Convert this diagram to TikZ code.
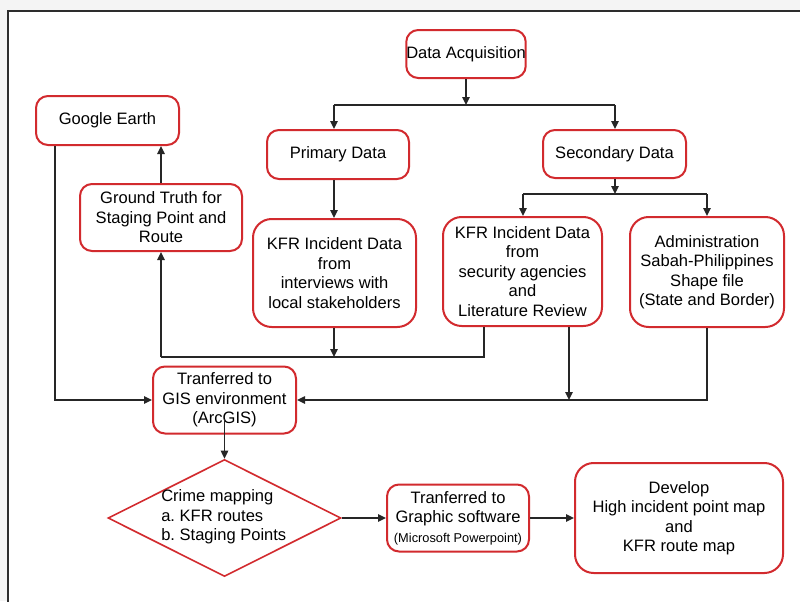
\documentclass[tikz,border=0pt]{standalone}
\usepackage{fontspec}
\setmainfont{Liberation Sans}
\usetikzlibrary{arrows.meta,shapes.geometric}
\definecolor{boxred}{RGB}{210,42,46}
\definecolor{pagegray}{RGB}{244,244,244}
\definecolor{framegray}{RGB}{45,45,45}
\frenchspacing

\begin{document}
\begin{tikzpicture}[x=0.75pt,y=-0.75pt,
  box/.style={draw=boxred,line width=1.5pt,rounded corners=9pt,fill=white,
    align=center,inner sep=0pt,font=\fontsize{12.4}{14.6}\selectfont},
  bigbox/.style={box,rounded corners=14pt},
  diam/.style={draw=boxred,line width=1.2pt,shape=diamond,inner sep=0pt,fill=white},
  txt/.style={align=left,inner sep=0pt,font=\fontsize{12.4}{14.6}\selectfont},
  conn/.style={line width=1.1pt,draw=black!85},
  arr/.style={conn,-{Triangle[length=6pt,width=5.5pt]}}]

\useasboundingbox (0,0) rectangle (800,601);
\fill[pagegray] (0,0) rectangle (800,601);
\begin{scope}
  \clip (0,0) rectangle (800,601);
  \draw[framegray,line width=1.5pt,fill=white] (8,11) rectangle (820,620);
\end{scope}

% boxes
\node[box,minimum width=89.25pt,minimum height=36pt] (da) at (466,54) {Data Acquisition};
\node[box,minimum width=107.25pt,minimum height=36.75pt] (ge) at (107.5,120.5) {Google Earth};
\node[box,minimum width=106.5pt,minimum height=36.75pt] (pd) at (338,154.5) {Primary Data};
\node[box,minimum width=107.25pt,minimum height=36pt] (sd) at (614.5,154) {Secondary Data};
\node[box,minimum width=121.5pt,minimum height=50.25pt] (gt) at (161,217.5)
  {Ground Truth for\\Staging Point and\\Route};
\node[bigbox,minimum width=122.25pt,minimum height=81pt] (k1) at (334.5,273)
  {KFR Incident Data\\from\\interviews with\\local stakeholders};
\node[bigbox,minimum width=119.25pt,minimum height=81.75pt] (k2) at (522.5,271.5)
  {KFR Incident Data\\from\\security agencies\\and\\Literature Review};
\node[bigbox,minimum width=115.5pt,minimum height=82.5pt] (adm) at (707,272)
  {Administration\\Sabah-Philippines\\Shape file\\(State and Border)};
\node[box,minimum width=107.25pt,minimum height=50.25pt] (gis) at (224.5,400)
  {Tranferred to\\GIS environment\\(ArcGIS)};
\node[diam,minimum width=174.75pt,minimum height=87.75pt] (cm) at (224.5,518) {};
\node[txt,anchor=west] (cmt) at (161,517) {Crime mapping\\a. KFR routes\\b. Staging Points};
\node[box,minimum width=106.5pt,minimum height=50.25pt] (gr) at (458,518)
  {Tranferred to\\Graphic software\\{\fontsize{9.6}{11}\selectfont(Microsoft Powerpoint)}};
\node[bigbox,minimum width=156pt,minimum height=82.5pt] (dev) at (679,518)
  {Develop\\High incident point map\\and\\KFR route map};

% junction points
\coordinate (j1) at (466,105);
\coordinate (jp) at (334,105);
\coordinate (js) at (615,105);
\coordinate (sj) at (615,194);
\coordinate (s1) at (523,194);
\coordinate (s2) at (707,194);
\coordinate (h1a) at (161,357);
\coordinate (h1b) at (334,357);
\coordinate (h1c) at (484,357);
\coordinate (gl) at (55,400);
\coordinate (g2) at (569,400);
\coordinate (g3) at (707,400);

% top split
\draw[arr] (da) -- (j1);
\draw[conn] (jp) -- (js);
\draw[arr] (jp) -- (jp |- pd.north);
\draw[arr] (js) -- (js |- sd.north);
\draw[arr] (pd.south -| jp) -- (k1.north -| jp);

% secondary split
\draw[arr] (sd.south -| sj) -- (sj);
\draw[conn] (s1) -- (s2);
\draw[arr] (s1) -- (s1 |- k2.north);
\draw[arr] (s2) -- (s2 |- adm.north);

% ground truth loop
\draw[arr] (gt) -- (gt |- ge.south);
\draw[conn] (k2.south -| h1c) -- (h1c) -- (h1a);
\draw[arr] (h1a) -- (h1a |- gt.south);
\draw[arr] (k1.south -| h1b) -- (h1b);

% into GIS
\draw[arr] (ge.south -| gl) -- (gl) -- (gis.west);
\draw[arr] (k2.south -| g2) -- (g2);
\draw[arr] (adm.south -| g3) -- (g3) -- (gis.east);

% lower chain
\draw[arr] ([yshift=12pt]gis.south) -- (cm.north);
\draw[arr] (cm.east) -- (gr.west);
\draw[arr] (gr.east) -- (dev.west);
\end{tikzpicture}
\end{document}
